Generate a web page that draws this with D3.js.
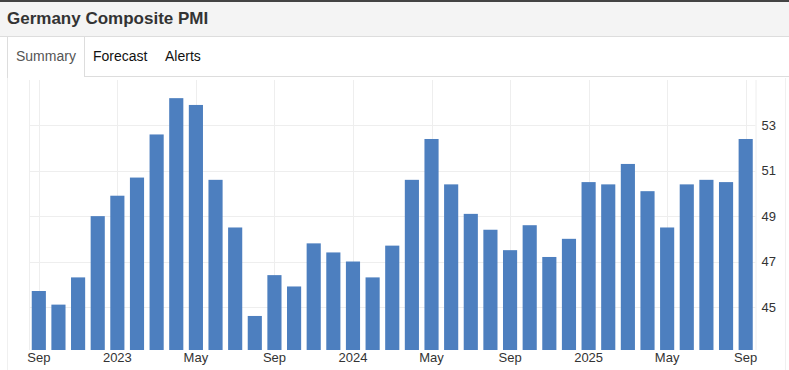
<!DOCTYPE html>
<html>
<head>
<meta charset="utf-8">
<script src="https://cdn.jsdelivr.net/npm/d3@7"></script>
<style>
  body { margin: 0; background: #fff; font-family: "Liberation Sans", Arial, sans-serif; }
  svg { display: block; }
</style>
</head>
<body>
<svg id="chart"></svg>
<script>
// Germany Composite PMI, monthly Sep 2022 - Sep 2025
const months = [
  "2022-09","2022-10","2022-11","2022-12",
  "2023-01","2023-02","2023-03","2023-04","2023-05","2023-06","2023-07","2023-08","2023-09","2023-10","2023-11","2023-12",
  "2024-01","2024-02","2024-03","2024-04","2024-05","2024-06","2024-07","2024-08","2024-09","2024-10","2024-11","2024-12",
  "2025-01","2025-02","2025-03","2025-04","2025-05","2025-06","2025-07","2025-08","2025-09"
];
const pmi = [
  45.7, 45.1, 46.3, 49.0,
  49.9, 50.7, 52.6, 54.2, 53.9, 50.6, 48.5, 44.6, 46.4, 45.9, 47.8, 47.4,
  47.0, 46.3, 47.7, 50.6, 52.4, 50.4, 49.1, 48.4, 47.5, 48.6, 47.2, 48.0,
  50.5, 50.4, 51.3, 50.1, 48.5, 50.4, 50.6, 50.5, 52.4
];
const xTicks = ["2022-09","2023-01","2023-05","2023-09","2024-01","2024-05","2024-09","2025-01","2025-05","2025-09"];
const xTickLabels = ["Sep","2023","May","Sep","2024","May","Sep","2025","May","Sep"];
const yTicks = [45, 47, 49, 51, 53];

const W = 789, H = 370;
const svg = d3.select("#chart").attr("width", W).attr("height", H);

// header bar
svg.append("rect").attr("x", 0).attr("y", 0).attr("width", W).attr("height", 2).attr("fill", "#444");
svg.append("rect").attr("x", 0).attr("y", 2).attr("width", W).attr("height", 34).attr("fill", "#f4f4f4");
svg.append("line").attr("x1", 0).attr("x2", W).attr("y1", 36.5).attr("y2", 36.5).attr("stroke", "#ddd");
svg.append("text").attr("x", 7).attr("y", 24)
  .attr("font-size", 17).attr("font-weight", "bold").attr("fill", "#333")
  .text("Germany Composite PMI");

// tabs
svg.append("line").attr("x1", 84).attr("x2", W).attr("y1", 76.5).attr("y2", 76.5).attr("stroke", "#ddd");
svg.append("path").attr("d", "M7.5,78 V37 M84.5,37 V77").attr("stroke", "#ddd").attr("fill", "none");
const tabs = [["Summary", 16, "#555"], ["Forecast", 93, "#111"], ["Alerts", 165, "#111"]];
svg.selectAll("text.tab").data(tabs).enter().append("text")
  .attr("class", "tab").attr("x", d => d[1]).attr("y", 61)
  .attr("font-size", 14).attr("fill", d => d[2]).text(d => d[0]);

// chart frame lines
svg.append("line").attr("x1", 7.5).attr("x2", 7.5).attr("y1", 78).attr("y2", H).attr("stroke", "#f0f0f0");
svg.append("line").attr("x1", 785.5).attr("x2", 785.5).attr("y1", 78).attr("y2", H).attr("stroke", "#f0f0f0");

const plotL = 29, plotR = 755.5, plotT = 80, plotB = 350;

const x = d3.scaleBand().domain(months).range([plotL, plotR]).paddingInner(0.28).paddingOuter(0.14);
const y = d3.scaleLinear().domain([43.1, 55]).range([plotB, plotT]);

// grid
const grid = svg.append("g");
grid.selectAll("line.h").data(yTicks).enter().append("line")
  .attr("x1", plotL).attr("x2", plotR).attr("y1", d => Math.round(y(d)) + 0.5).attr("y2", d => Math.round(y(d)) + 0.5)
  .attr("stroke", "#eee");
grid.selectAll("line.v").data(xTicks).enter().append("line")
  .attr("x1", d => Math.round(x(d) + x.bandwidth() / 2) + 0.5).attr("x2", d => Math.round(x(d) + x.bandwidth() / 2) + 0.5)
  .attr("y1", plotT).attr("y2", plotB).attr("stroke", "#eee");
grid.append("path").attr("d", `M${plotL + 0.5},${plotT} V${plotB} M${plotR + 0.5},${plotT} V${plotB}`)
  .attr("stroke", "#eee").attr("fill", "none");

// bars
svg.selectAll("rect.bar").data(months).enter().append("rect")
  .attr("class", "bar")
  .attr("x", d => x(d)).attr("width", x.bandwidth())
  .attr("y", (d, i) => y(pmi[i])).attr("height", (d, i) => plotB - y(pmi[i]))
  .attr("fill", "#4d7fbf");

// axes
const xAxis = d3.axisBottom(x).tickValues(xTicks)
  .tickFormat(d => xTickLabels[xTicks.indexOf(d)]).tickSize(0).tickPadding(3);
const gx = svg.append("g").attr("transform", `translate(0,${plotB})`).call(xAxis);
gx.select(".domain").remove();
gx.selectAll("text").attr("font-size", 13).attr("fill", "#333").attr("font-family", "Liberation Sans, Arial, sans-serif");

const yAxis = d3.axisRight(y).tickValues(yTicks).tickSize(0).tickPadding(6);
const gy = svg.append("g").attr("transform", `translate(${plotR},0)`).call(yAxis);
gy.select(".domain").remove();
gy.selectAll("text").attr("font-size", 13).attr("fill", "#333").attr("font-family", "Liberation Sans, Arial, sans-serif");
</script>
</body>
</html>
